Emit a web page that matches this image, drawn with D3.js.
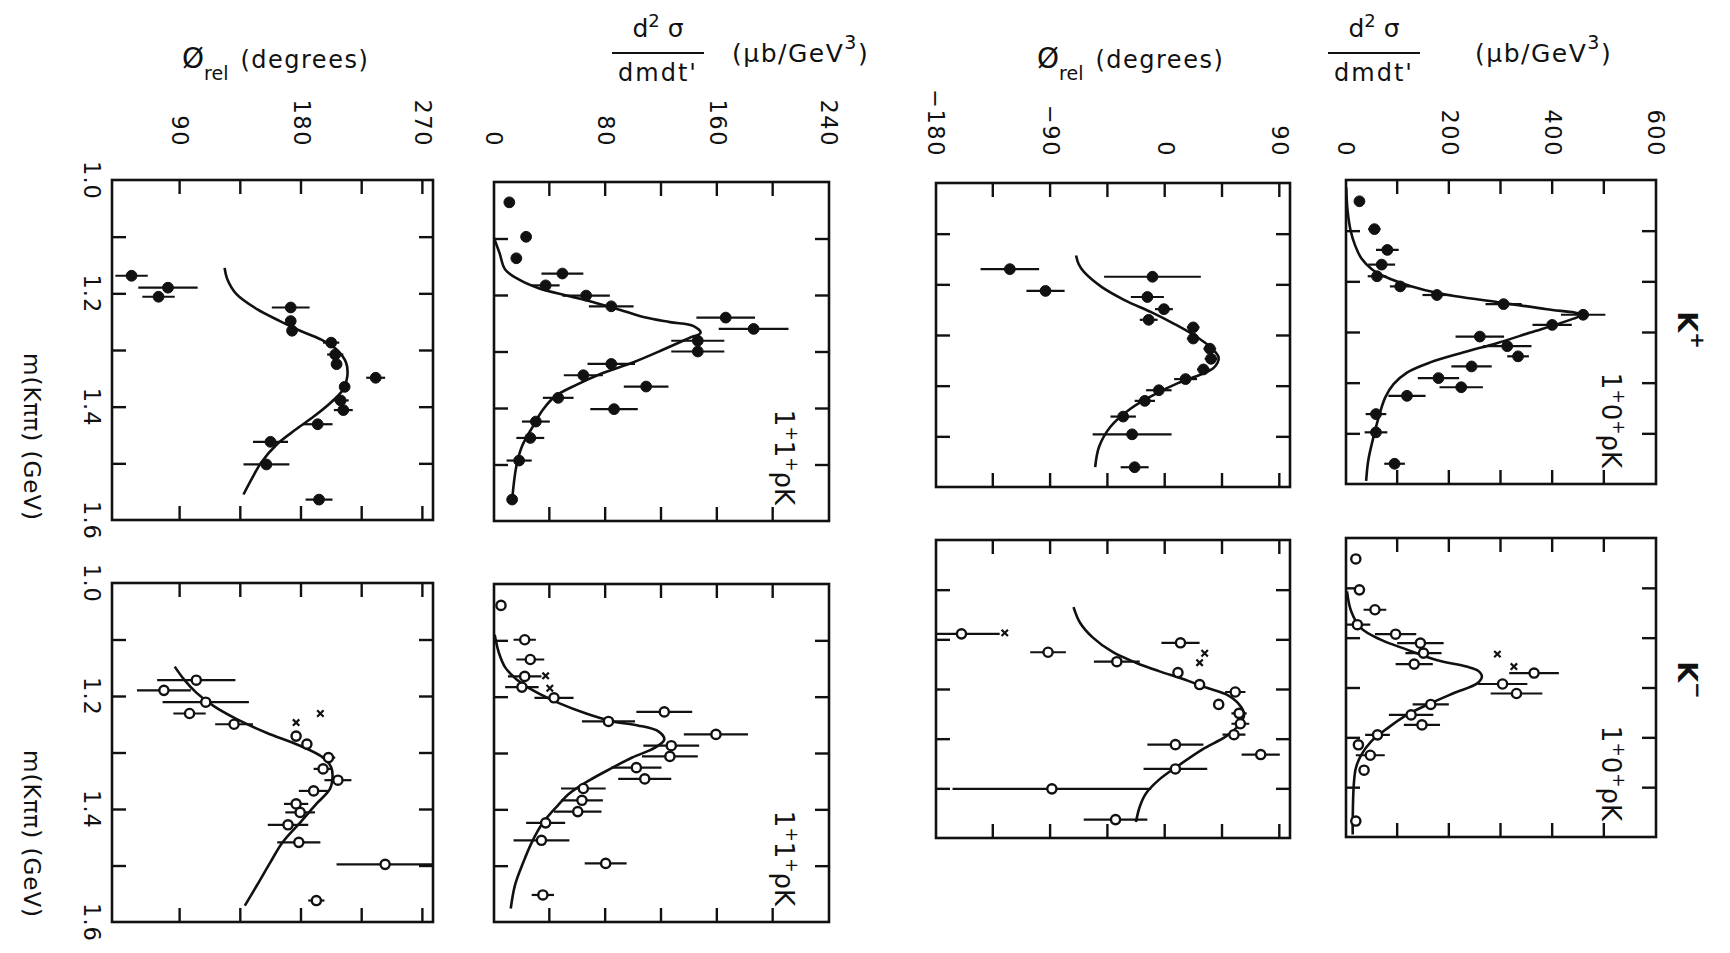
<!DOCTYPE html>
<html>
<head>
<meta charset="utf-8">
<script src="https://cdn.jsdelivr.net/npm/d3@7"></script>
<style>
  html, body { margin: 0; padding: 0; background: #fff; }
  svg { display: block; }
  text { font-family: "DejaVu Sans", "Liberation Sans", sans-serif; fill: #111; }
</style>
</head>
<body>
<svg id="fig" width="1730" height="953"></svg>
<script>
// ---------------------------------------------------------------
// Axis ticks and labels
// ---------------------------------------------------------------
const massTicks = [1.1, 1.2, 1.3, 1.4, 1.5];
const massLabels = [1.0, 1.2, 1.4, 1.6];
const sigma10Ticks = [100, 200, 300, 400, 500];
const sigma10Labels = [0, 200, 400, 600];
const phi10Ticks = [-135, -90, -45, 0, 45, 90];
const phi10Labels = [-180, -90, 0, 90];
const sigma11Ticks = [40, 80, 120, 160, 200];
const sigma11Labels = [0, 80, 160, 240];
const phi11Ticks = [90, 135, 180, 225, 270];
const phi11Labels = [90, 180, 270];

// ---------------------------------------------------------------
// Measurements: [m(Kππ) GeV, value, error]
// ---------------------------------------------------------------
// 1+0+ ρK cross section (μb/GeV³)
const sig10Kp = [
  [1.042, 26, 0], [1.097, 55, 12], [1.138, 80, 22], [1.167, 69, 26], [1.190, 60, 18],
  [1.210, 105, 20], [1.227, 176, 28], [1.245, 305, 35], [1.266, 459, 43], [1.286, 399, 38],
  [1.309, 259, 47], [1.328, 312, 47], [1.348, 333, 21], [1.368, 243, 39], [1.391, 179, 40],
  [1.409, 223, 42], [1.426, 118, 36], [1.462, 58, 20], [1.498, 58, 22], [1.560, 94, 20]
];
const sig10Km = [
  [1.042, 19, 0], [1.104, 26, 0], [1.144, 56, 22], [1.174, 22, 25], [1.193, 96, 40],
  [1.211, 144, 45], [1.231, 150, 35], [1.253, 132, 36], [1.271, 364, 48], [1.293, 303, 48],
  [1.312, 330, 50], [1.334, 164, 35], [1.355, 126, 43], [1.375, 147, 35], [1.395, 61, 24],
  [1.415, 24, 8], [1.436, 47, 28], [1.466, 35, 0], [1.568, 19, 0]
];
const sig10KmCross = [[1.233, 293], [1.258, 325]];

// 1+0+ ρK relative phase (degrees)
const phi10Kp = [
  [1.170, -122, 23], [1.213, -94, 15], [1.185, -10, 38], [1.225, -14, 13], [1.249, -1, 7],
  [1.270, -13, 7], [1.285, 22, 5], [1.307, 22, 5], [1.327, 35, 5], [1.347, 36, 5],
  [1.368, 30, 5], [1.387, 16, 9], [1.409, -5, 10], [1.430, -16, 8], [1.461, -33, 10],
  [1.496, -26, 31], [1.561, -24, 11]
];
const phi10Km = [
  [1.189, -160, 30], [1.226, -92, 14], [1.245, -38, 18], [1.207, 12, 15], [1.267, 10, 0],
  [1.291, 27, 0], [1.306, 55, 8], [1.331, 42, 0], [1.349, 58, 6], [1.370, 59, 7],
  [1.392, 54, 9], [1.412, 8, 22], [1.432, 75, 15], [1.461, 8, 25], [1.501, -89, 78],
  [1.563, -39, 25]
];
const phi10KmCross = [[1.187, -126], [1.228, 31], [1.247, 27]];

// 1+1+ ρK cross section (μb/GeV³)
const sig11Kp = [
  [1.036, 11, 0], [1.097, 23, 0], [1.135, 16, 0], [1.162, 49, 15], [1.183, 37, 10],
  [1.201, 66, 17], [1.220, 84, 16], [1.240, 166, 21], [1.260, 186, 25], [1.281, 146, 19],
  [1.300, 146, 19], [1.322, 84, 17], [1.342, 64, 14], [1.362, 109, 16], [1.382, 46, 11],
  [1.402, 86, 17], [1.424, 30, 10], [1.453, 26, 10], [1.493, 18, 9], [1.562, 13, 0]
];
const sig11Km = [
  [1.038, 5, 0], [1.099, 22, 8], [1.134, 26, 10], [1.164, 22, 12], [1.183, 20, 12],
  [1.202, 43, 14], [1.244, 82, 19], [1.227, 122, 20], [1.267, 159, 23], [1.287, 127, 20],
  [1.306, 126, 20], [1.326, 102, 18], [1.346, 108, 19], [1.363, 64, 16], [1.384, 63, 15],
  [1.404, 60, 17], [1.424, 37, 14], [1.455, 34, 20], [1.496, 80, 15], [1.552, 35, 8]
];
const sig11KmCross = [[1.163, 37], [1.185, 40]];

// 1+1+ ρK relative phase (degrees)
const phi11Kp = [
  [1.169, 54, 12], [1.190, 81, 22], [1.206, 74, 12], [1.225, 172, 14], [1.249, 172, 0],
  [1.266, 173, 0], [1.287, 202, 6], [1.308, 205, 6], [1.325, 206, 0], [1.349, 235, 7],
  [1.365, 212, 0], [1.389, 209, 6], [1.406, 211, 7], [1.431, 192, 11], [1.462, 157, 13],
  [1.502, 154, 17], [1.564, 193, 10]
];
const phi11Km = [
  [1.172, 102, 29], [1.190, 78, 20], [1.211, 109, 32], [1.231, 97, 12], [1.250, 130, 14],
  [1.271, 176, 0], [1.285, 184, 0], [1.309, 200, 5], [1.329, 196, 7], [1.349, 207, 10],
  [1.368, 189, 11], [1.391, 176, 9], [1.406, 179, 11], [1.428, 170, 15], [1.459, 178, 16],
  [1.498, 242, 36], [1.562, 191, 6]
];
const phi11KmCross = [[1.247, 176], [1.231, 194]];

// ---------------------------------------------------------------
// Fitted curves: [m(Kππ) GeV, value]
// ---------------------------------------------------------------
const fit10Kp = [
  [1.015, 0.5], [1.060, 3], [1.100, 9], [1.130, 18], [1.155, 30], [1.176, 50], [1.191, 76],
  [1.209, 124], [1.224, 182], [1.241, 292], [1.255, 389], [1.266, 455], [1.280, 422],
  [1.301, 357], [1.322, 292], [1.340, 228], [1.360, 163], [1.380, 118], [1.403, 92],
  [1.429, 76], [1.462, 65], [1.508, 53], [1.554, 43], [1.594, 39]
];
const fit10Km = [
  [1.107, 2], [1.147, 10], [1.181, 29], [1.204, 67], [1.224, 118], [1.245, 175], [1.258, 233],
  [1.266, 255], [1.278, 263], [1.291, 255], [1.312, 207], [1.332, 163], [1.355, 118],
  [1.382, 80], [1.409, 48], [1.436, 29], [1.462, 19], [1.496, 15], [1.563, 13], [1.595, 13]
];
const fit10PhiKp = [
  [1.143, -70], [1.160, -68], [1.175, -64], [1.205, -50], [1.231, -32], [1.255, -11],
  [1.278, 7], [1.301, 23], [1.325, 36], [1.345, 42], [1.365, 38], [1.378, 28], [1.395, 10],
  [1.418, -9], [1.445, -27], [1.481, -43], [1.521, -52], [1.561, -55]
];
const fit10PhiKm = [
  [1.135, -72], [1.166, -67], [1.196, -57], [1.226, -41], [1.247, -23], [1.264, -5],
  [1.280, 14], [1.297, 32], [1.311, 48], [1.331, 58], [1.351, 62], [1.372, 58], [1.395, 48],
  [1.422, 29], [1.453, 11], [1.483, -5], [1.510, -15], [1.537, -20], [1.568, -23]
];
const fit11Kp = [
  [1.099, 0], [1.126, 4], [1.155, 8], [1.173, 18], [1.188, 32], [1.202, 54], [1.214, 73],
  [1.226, 90], [1.239, 107], [1.248, 126], [1.255, 143], [1.267, 148], [1.276, 140],
  [1.297, 121], [1.319, 100], [1.338, 78], [1.359, 59], [1.379, 44], [1.403, 35],
  [1.432, 28], [1.468, 20], [1.503, 16], [1.562, 13]
];
const fit11Km = [
  [1.090, 0.5], [1.122, 3.5], [1.148, 8], [1.169, 16], [1.189, 28], [1.212, 47], [1.230, 66],
  [1.244, 85], [1.251, 103], [1.262, 118], [1.276, 122], [1.291, 115], [1.308, 99],
  [1.326, 85], [1.349, 68], [1.372, 54], [1.395, 45], [1.424, 35], [1.459, 27],
  [1.494, 21], [1.535, 15], [1.576, 12]
];
const fit11PhiKp = [
  [1.155, 123], [1.175, 125], [1.202, 132], [1.228, 147], [1.249, 164], [1.266, 179],
  [1.281, 194], [1.299, 206], [1.322, 213], [1.346, 214], [1.369, 211], [1.390, 203],
  [1.414, 191], [1.440, 176], [1.466, 162], [1.499, 150], [1.528, 143], [1.555, 137]
];
const fit11PhiKm = [
  [1.148, 86], [1.171, 93], [1.194, 102], [1.218, 115], [1.241, 132], [1.265, 154],
  [1.288, 179], [1.309, 196], [1.326, 202], [1.344, 203], [1.365, 201], [1.391, 191],
  [1.424, 179], [1.459, 166], [1.494, 157], [1.535, 147], [1.571, 138]
];

// ---------------------------------------------------------------
// Layout: the figure is composed upright (953 wide x 1730 tall)
// and turned a quarter turn clockwise onto the landscape page.
// ---------------------------------------------------------------
const PAGE_W = 1730, PAGE_H = 953;
const INK = '#111';
const svg = d3.select('#fig');
svg.append('rect').attr('width', PAGE_W).attr('height', PAGE_H).attr('fill', '#fff');
const fig = svg.append('g').attr('transform', `translate(${PAGE_W},0) rotate(90)`);

// a group inside the figure whose local axes run along the page (for axis titles)
function pageAligned(px, py) {
  return fig.append('g').attr('transform', `translate(${py},${PAGE_W - px}) rotate(-90)`);
}

const rows = [
  { top: 74,   bottom: 384,  domain: [0, 600],       ticks: sigma10Ticks, labels: sigma10Labels, labelEnd: 157, tag: '0' },
  { top: 440,  bottom: 794,  domain: [-180, 98],     ticks: phi10Ticks,   labels: phi10Labels,   labelEnd: 157 },
  { top: 901,  bottom: 1236, domain: [0, 240],       ticks: sigma11Ticks, labels: sigma11Labels, labelEnd: 147, tag: '1' },
  { top: 1297, bottom: 1618, domain: [39.5, 277.5],  ticks: phi11Ticks,   labels: phi11Labels,   labelEnd: 147, massAxis: true }
];

const panels = [
  { row: 0, first: true,  span: [180, 484], pts: sig10Kp, fit: fit10Kp,    open: false },
  { row: 0, first: false, span: [538, 837], pts: sig10Km, fit: fit10Km,    open: true, cross: sig10KmCross },
  { row: 1, first: true,  span: [183, 487], pts: phi10Kp, fit: fit10PhiKp, open: false },
  { row: 1, first: false, span: [540, 838], pts: phi10Km, fit: fit10PhiKm, open: true, cross: phi10KmCross },
  { row: 2, first: true,  span: [182, 521], pts: sig11Kp, fit: fit11Kp,    open: false },
  { row: 2, first: false, span: [584, 922], pts: sig11Km, fit: fit11Km,    open: true, cross: sig11KmCross },
  { row: 3, first: true,  span: [180, 520], pts: phi11Kp, fit: fit11PhiKp, open: false },
  { row: 3, first: false, span: [583, 922], pts: phi11Km, fit: fit11PhiKm, open: true, cross: phi11KmCross }
];

const TICK = 14;
const fmtMass = d3.format('.1f');

function styleTicks(sel) {
  sel.select('.domain').remove();
  sel.selectAll('.tick line').attr('stroke', INK).attr('stroke-width', 2.4);
}

panels.forEach((p, i) => {
  const r = rows[p.row];
  const x = d3.scaleLinear().domain([1.0, 1.6]).range(p.span);
  const y = d3.scaleLinear().domain(r.domain).range([r.bottom, r.top]);
  const g = fig.append('g');

  const clipId = 'panel-clip-' + i;
  g.append('clipPath').attr('id', clipId).append('rect')
    .attr('x', p.span[0]).attr('y', r.top)
    .attr('width', p.span[1] - p.span[0]).attr('height', r.bottom - r.top);

  // inward ticks on all four sides
  g.append('g').attr('transform', `translate(0,${r.bottom})`)
    .call(d3.axisBottom(x).tickValues(massTicks).tickSize(-TICK).tickFormat('')).call(styleTicks);
  g.append('g').attr('transform', `translate(0,${r.top})`)
    .call(d3.axisTop(x).tickValues(massTicks).tickSize(-TICK).tickFormat('')).call(styleTicks);
  g.append('g').attr('transform', `translate(${p.span[0]},0)`)
    .call(d3.axisLeft(y).tickValues(r.ticks).tickSize(-TICK).tickFormat('')).call(styleTicks);
  g.append('g').attr('transform', `translate(${p.span[1]},0)`)
    .call(d3.axisRight(y).tickValues(r.ticks).tickSize(-TICK).tickFormat('')).call(styleTicks);

  // value labels on the left of the first column
  if (p.first) {
    const ax = g.append('g').attr('transform', `translate(${r.labelEnd},0)`)
      .call(d3.axisLeft(y).tickValues(r.labels).tickSize(0).tickPadding(0).tickFormat(d3.format('d')));
    ax.select('.domain').remove();
    ax.selectAll('text').attr('fill', INK).style('font-size', '22.5px').style('letter-spacing', '1.5px')
      .attr('font-family', null);
  }

  // mass labels under the bottom row
  if (r.massAxis) {
    const ax = g.append('g').attr('transform', `translate(0,${r.bottom + 12})`)
      .call(d3.axisBottom(x).tickValues(massLabels).tickSize(0).tickPadding(0).tickFormat(fmtMass));
    ax.select('.domain').remove();
    ax.selectAll('text').attr('fill', INK).style('font-size', '22.5px').style('letter-spacing', '1px')
      .attr('font-family', null);
  }

  // frame
  g.append('rect')
    .attr('x', p.span[0]).attr('y', r.top)
    .attr('width', p.span[1] - p.span[0]).attr('height', r.bottom - r.top)
    .attr('fill', 'none').attr('stroke', INK).attr('stroke-width', 2.6);

  const inner = g.append('g').attr('clip-path', `url(#${clipId})`);

  // fitted curve
  inner.append('path')
    .datum(p.fit)
    .attr('d', d3.line().x(d => x(d[0])).y(d => y(d[1])).curve(d3.curveCatmullRom.alpha(0.5)))
    .attr('fill', 'none').attr('stroke', INK).attr('stroke-width', 2.6);

  // error bars
  inner.selectAll('line.err').data(p.pts.filter(d => d[2] > 0)).join('line')
    .attr('class', 'err')
    .attr('x1', d => x(d[0])).attr('x2', d => x(d[0]))
    .attr('y1', d => y(d[1] - d[2])).attr('y2', d => y(d[1] + d[2]))
    .attr('stroke', INK).attr('stroke-width', 2.2);

  // points
  inner.selectAll('circle.pt').data(p.pts).join('circle')
    .attr('class', 'pt')
    .attr('cx', d => x(d[0])).attr('cy', d => y(d[1]))
    .attr('r', p.open ? 4.6 : 5.4)
    .attr('fill', p.open ? '#fff' : INK)
    .attr('stroke', INK).attr('stroke-width', p.open ? 2.4 : 1);

  // cross markers
  if (p.cross) {
    const s = 3.2;
    const cg = inner.selectAll('g.cross').data(p.cross).join('g')
      .attr('class', 'cross')
      .attr('transform', d => `translate(${x(d[0])},${y(d[1])})`);
    cg.append('path').attr('d', `M${-s},${-s}L${s},${s}M${-s},${s}L${s},${-s}`)
      .attr('stroke', INK).attr('stroke-width', 2.2);
  }

  // wave tag in the corner of the cross-section panels
  if (r.tag) {
    const t = g.append('text')
      .attr('x', p.span[1] - 16).attr('y', r.top + 54)
      .attr('text-anchor', 'end').style('font-size', '26px');
    t.append('tspan').text('1');
    t.append('tspan').attr('dy', -11).style('font-size', '17px').text('+');
    t.append('tspan').attr('dy', 11).text(r.tag);
    t.append('tspan').attr('dy', -11).style('font-size', '17px').text('+');
    t.append('tspan').attr('dy', 11).text('ρK');
  }
});

// column headers
[{ u: 330, sign: '+' }, { u: 680, sign: '−' }].forEach(h => {
  const t = fig.append('text').attr('x', h.u).attr('y', 52)
    .attr('text-anchor', 'middle').style('font-size', '27px').style('font-weight', 'bold');
  t.append('tspan').text('K');
  t.append('tspan').attr('dy', -13).style('font-size', '20px').text(h.sign);
});

// mass axis titles
[353, 750].forEach(u => {
  fig.append('text').attr('x', u).attr('y', 1706)
    .style('font-size', '23px').style('letter-spacing', '1px')
    .text('m(Kππ)  (GeV)');
});

// value-axis titles (read along the page)
function sigmaTitle(px, unitsAt) {
  const g = pageAligned(px, 0);
  g.append('text').attr('x', 46).attr('y', 37).attr('text-anchor', 'middle')
    .style('font-size', '25px')
    .call(t => {
      t.append('tspan').text('d');
      t.append('tspan').attr('dy', -10).style('font-size', '18px').text('2');
      t.append('tspan').attr('dy', 10).text(' σ');
    });
  g.append('line').attr('x1', 0).attr('x2', 92).attr('y1', 53).attr('y2', 53)
    .attr('stroke', INK).attr('stroke-width', 2.2);
  g.append('text').attr('x', 46).attr('y', 81).attr('text-anchor', 'middle')
    .style('font-size', '24px').style('letter-spacing', '2px').text("dmdt'");
  g.append('text').attr('x', unitsAt).attr('y', 62)
    .style('font-size', '25px').style('letter-spacing', '1.5px')
    .call(t => {
      t.append('tspan').text('(μb/GeV');
      t.append('tspan').attr('dy', -13).style('font-size', '19px').text('3');
      t.append('tspan').attr('dy', 13).text(')');
    });
}
function phiTitle(px) {
  const g = pageAligned(px, 0);
  g.append('text').attr('x', 0).attr('y', 68).style('font-size', '28px')
    .call(t => {
      t.append('tspan').text('Ø');
      t.append('tspan').attr('dy', 12).style('font-size', '19px').text('rel');
      t.append('tspan').attr('dy', -12).attr('dx', 12).style('font-size', '24px')
        .style('letter-spacing', '1.5px').text('(degrees)');
    });
}
sigmaTitle(1328, 147);
phiTitle(1037);
sigmaTitle(612, 120);
phiTitle(182);
</script>
</body>
</html>
